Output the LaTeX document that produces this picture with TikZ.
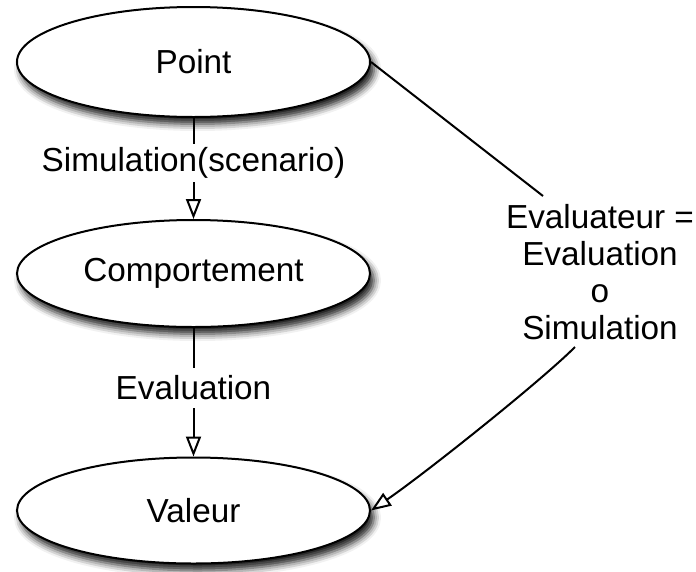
\documentclass[tikz,border=0pt]{standalone}
\usepackage{fontspec}
\setmainfont{Liberation Sans}
\usetikzlibrary{shapes.geometric,arrows.meta,shadows.blur}
\begin{document}
\begin{tikzpicture}[x=1pt,y=-1pt,
  state/.style={ellipse, draw=black, line width=2pt, fill=white, inner sep=0pt,
    minimum width=353pt, font=\fontsize{33.3}{37}\selectfont,
    blur shadow={shadow xshift=4pt, shadow yshift=-7pt, shadow blur radius=7pt, shadow opacity=90}},
  conn/.style={line width=2pt, draw=black},
  arr/.style={conn, -{Triangle[open, length=20pt, width=15pt, line width=2pt]}},
  lbl/.style={font=\fontsize{33.3}{37}\selectfont, fill=white, inner sep=4pt,
    text height=23.5pt, text depth=7pt},
  rlbl/.style={font=\fontsize{33.3}{37}\selectfont, align=center, inner sep=0pt}]
\useasboundingbox (0,0) rectangle (696,571);
\node[state, minimum height=110pt] (P) at (193.5,62) {Point};
\node[state, minimum height=107pt] (C) at (193.5,273.5) {Comportement};
\node[state, minimum height=106pt] (V) at (193.5,510.5) {Valeur};
\node[rlbl] (ev) at (600,272) {Evaluateur =\\Evaluation\\o\\Simulation};
\coordinate (e1) at (543,196);
\coordinate (e2) at (575,347);
\draw[arr] (P) -- node[lbl, pos=0.447] (l1) {Simulation(scenario)} (C);
\draw[arr] (C) -- node[lbl, pos=0.465, text depth=1pt, inner ysep=8pt] (l2) {Evaluation} (V);
\draw[conn] (P.east) -- (e1);
\draw[arr] (e2) .. controls (540,382) and (423,475) .. (V.east);
\end{tikzpicture}
\end{document}
